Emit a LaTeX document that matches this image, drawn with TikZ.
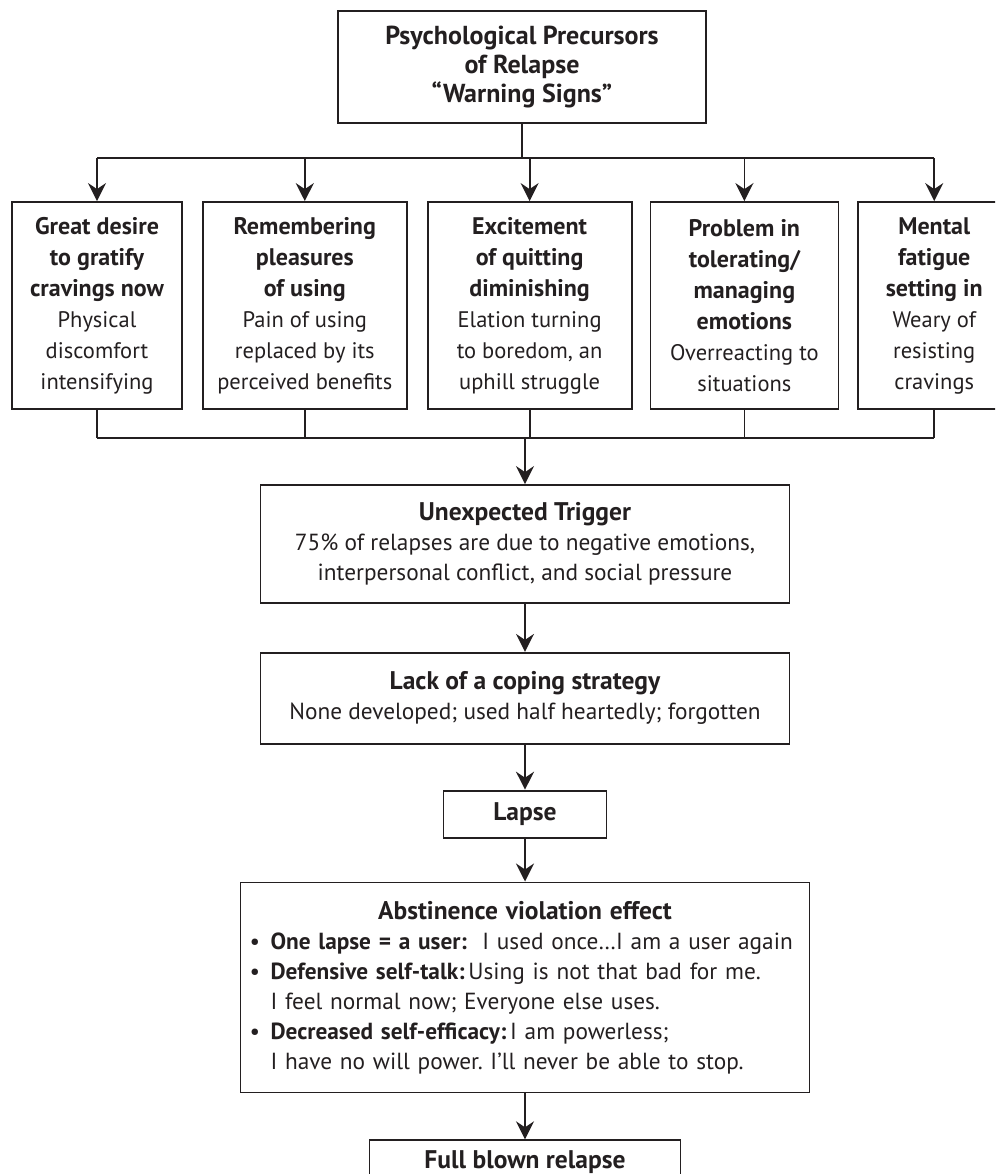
\documentclass[tikz,border=0pt]{standalone}
\usepackage{fontspec}
\setmainfont{PT Sans}
\usetikzlibrary{arrows.meta,positioning}
\definecolor{ink}{RGB}{35,31,32}
\tikzset{
  block/.style ={rectangle, draw=ink, line width=1.8pt, align=center, text=ink,
                 inner sep=0pt, font=\fontsize{23.3}{30}\selectfont},
  sign/.style  ={block, minimum height=207pt, font=\fontsize{22.5}{31}\selectfont},
  stage/.style ={block, minimum width=529pt},
  flow/.style  ={-{Stealth[length=18pt,width=18pt,inset=6pt]}, draw=ink, line width=1.8pt},
  bus/.style   ={draw=ink, line width=1.8pt},
}
\newcommand{\hd}[1]{{\fontsize{25.5}{30}\selectfont\bfseries #1}}
\newcommand{\sg}[1]{{\fontsize{24}{31}\selectfont\bfseries #1}}
\newcommand{\bul}{\makebox[21pt][l]{\textbullet}}
\frenchspacing

\begin{document}
\begin{tikzpicture}[x=1pt,y=1pt]
    \useasboundingbox (0,0) rectangle (995,-1174);
    \clip (0,0) rectangle (995,-1174);

    \node[block, minimum width=368pt, minimum height=112pt,
          font=\bfseries\fontsize{26}{29}\selectfont] (top) at (522,-67)
        {Psychological Precursors\\of Relapse\\“Warning Signs”};

    % warning signs
    \node[sign, minimum width=170pt] (g1) at (97,-305.5)
        {\sg{Great desire}\\\sg{to gratify}\\\sg{cravings now}\\Physical\\discomfort\\intensifying};
    \node[sign, minimum width=204pt, right=19pt of g1] (g2)
        {\sg{Remembering}\\\sg{pleasures}\\\sg{of using}\\Pain of using\\replaced by its\\perceived benefits};
    \node[sign, minimum width=204pt, right=19pt of g2] (g3)
        {\sg{Excitement}\\\sg{of quitting}\\\sg{diminishing}\\Elation turning\\to boredom, an\\uphill struggle};
    \node[sign, minimum width=188pt, right=17pt of g3] (g4)
        {\sg{Problem in}\\\sg{tolerating/}\\\sg{managing}\\\sg{emotions}\\Overreacting to\\situations};
    \node[sign, minimum width=152pt, right=18pt of g4] (g5)
        {\sg{Mental}\\\sg{fatigue}\\\sg{setting in}\\Weary of\\resisting\\cravings};

    \coordinate (fork) at (522,-158);
    \coordinate (join) at (525,-438);
    \draw[bus] (top) -- (fork);
    \draw[bus] (g1.north |- fork) -- (g5.north |- fork);
    \foreach \g in {g1,g2,g3,g4,g5} {
        \draw[flow] (\g.north |- fork) -- (\g.north);
        \draw[bus] (\g.south) -- (\g.south |- join);
    }
    \draw[bus] (g1.south |- join) -- (g5.south |- join);

    % chain to relapse
    \node[stage, minimum height=118pt] (trig) at (525,-544)
        {\hd{Unexpected Trigger}\\75\% of relapses are due to negative emotions,\\interpersonal conflict, and social pressure};
    \node[stage, minimum height=91pt, below=48pt of trig] (cope)
        {\hd{Lack of a coping strategy}\\None developed; used half heartedly; forgotten};
    \node[block, minimum width=163pt, minimum height=47pt, below=45pt of cope] (lapse)
        {\hd{Lapse}};
    \node[block, minimum width=569pt, minimum height=210pt, text width=551pt,
          align=left, below=43pt of lapse] (ave)
        {\makebox[\linewidth]{\hd{Abstinence violation effect}}\\
         \bul\textbf{One lapse = a user:}\ \ I used once…I am a user again\\
         \bul\textbf{Defensive self-talk:}\,Using is not that bad for me.\\
         \hspace*{21pt}I feel normal now; Everyone else uses.\\
         \bul\textbf{Decreased self-efficacy:}\,I am powerless;\\
         \hspace*{21pt}I have no will power. I'll never be able to stop.};
    \node[block, minimum width=311pt, minimum height=44pt, below=46pt of ave] (relapse)
        {\hd{Full blown relapse}};

    \draw[flow] (trig.north |- join) -- (trig);
    \draw[flow] (trig) -- (cope);
    \draw[flow] (cope) -- (lapse);
    \draw[flow] (lapse) -- (ave);
    \draw[flow] (ave) -- (relapse);
\end{tikzpicture}
\end{document}
